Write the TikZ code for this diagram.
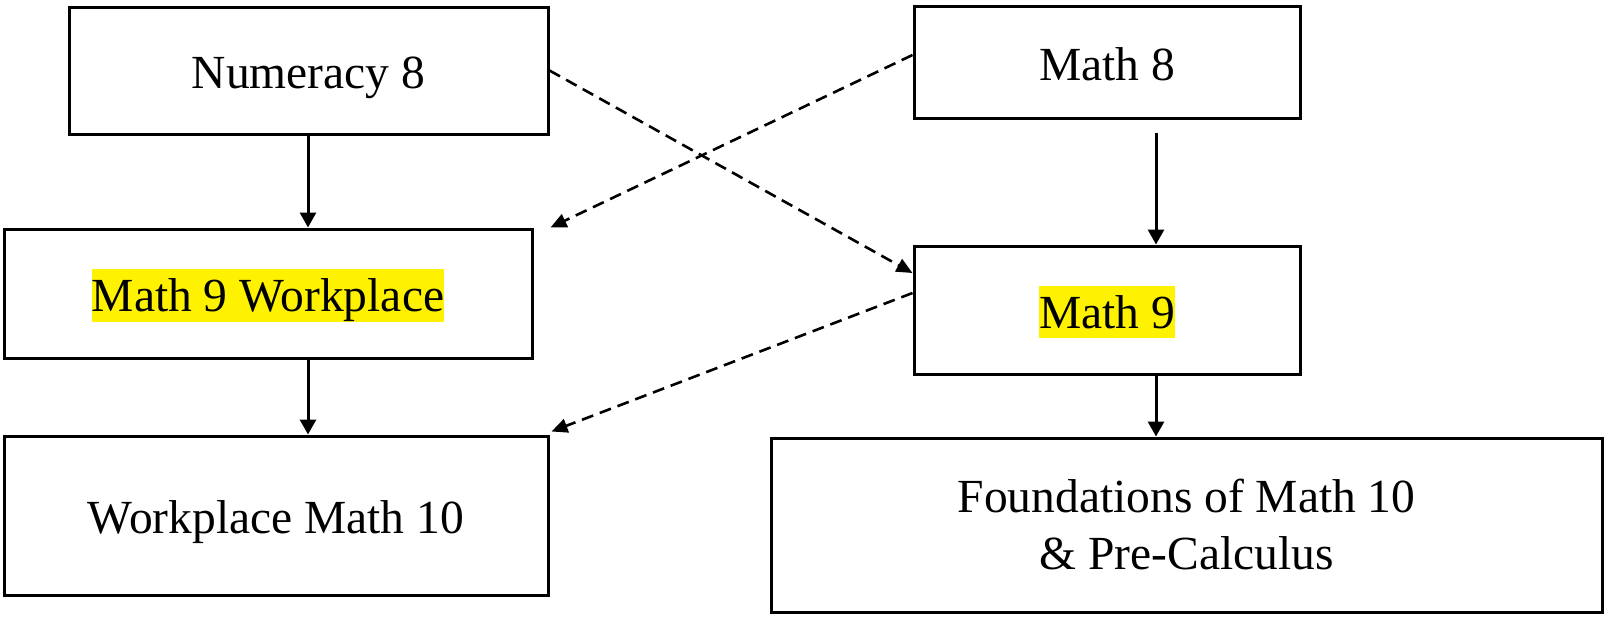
\documentclass[tikz,border=0pt]{standalone}
\usepackage{fontspec}
\setmainfont{Liberation Serif}
\usetikzlibrary{arrows.meta}
\newcommand\hlt[1]{{\setlength\fboxsep{0pt}\colorbox{yellow}{\rule[-0.216em]{0pt}{1.107em}#1}}}
\begin{document}
\begin{tikzpicture}[x=1pt,y=-1pt,
  box/.style={draw=black,line width=3pt,rectangle,inner sep=0pt,
    font=\fontsize{47.5}{57}\selectfont,text height=36pt,text depth=0pt},
  solidarr/.style={line width=3pt,-{Triangle[length=15pt,width=16pt]}},
  dasharr/.style={line width=2.6pt,dash pattern=on 12pt off 7pt,-{Triangle[length=16pt,width=14pt]}}]
\useasboundingbox (0,0) rectangle (1606,616);
\node[box,minimum width=479pt,minimum height=127pt] (num) at (308.5,70.5) {Numeracy 8};
\node[box,minimum width=386pt,minimum height=112pt] (m8) at (1107,62) {Math 8};
\node[box,minimum width=528pt,minimum height=129pt] (m9w) at (268,293.5) {\hlt{Math 9 Workplace}};
\node[box,minimum width=386pt,minimum height=128pt] (m9) at (1107,310) {\hlt{Math 9}};
\node[box,minimum width=544pt,minimum height=159pt] (wm10) at (276,515.5) {Workplace Math 10};
\node[box,minimum width=831pt,minimum height=174pt,align=center,text height=,text depth=] (fnd) at (1186.5,525) {Foundations of Math 10\\\& Pre-Calculus};
\coordinate (m8a) at (1156,133);
\draw[solidarr] (num.south -| 308,0) -- (m9w.north -| 308,0);
\draw[solidarr] (m8a) -- (m9.north -| m8a);
\draw[solidarr] (m9w.south -| 308,0) -- (wm10.north -| 308,0);
\draw[solidarr] (m9.south -| m8a) -- (fnd.north -| m8a);
\draw[dasharr] (num.east) -- ([yshift=37pt]m9.west);
\draw[dasharr] ([yshift=7pt]m8.west) -- ([xshift=17pt]m9w.north east);
\draw[dasharr] ([yshift=17pt]m9.west) -- ([xshift=2pt,yshift=3pt]wm10.north east);
\end{tikzpicture}
\end{document}
